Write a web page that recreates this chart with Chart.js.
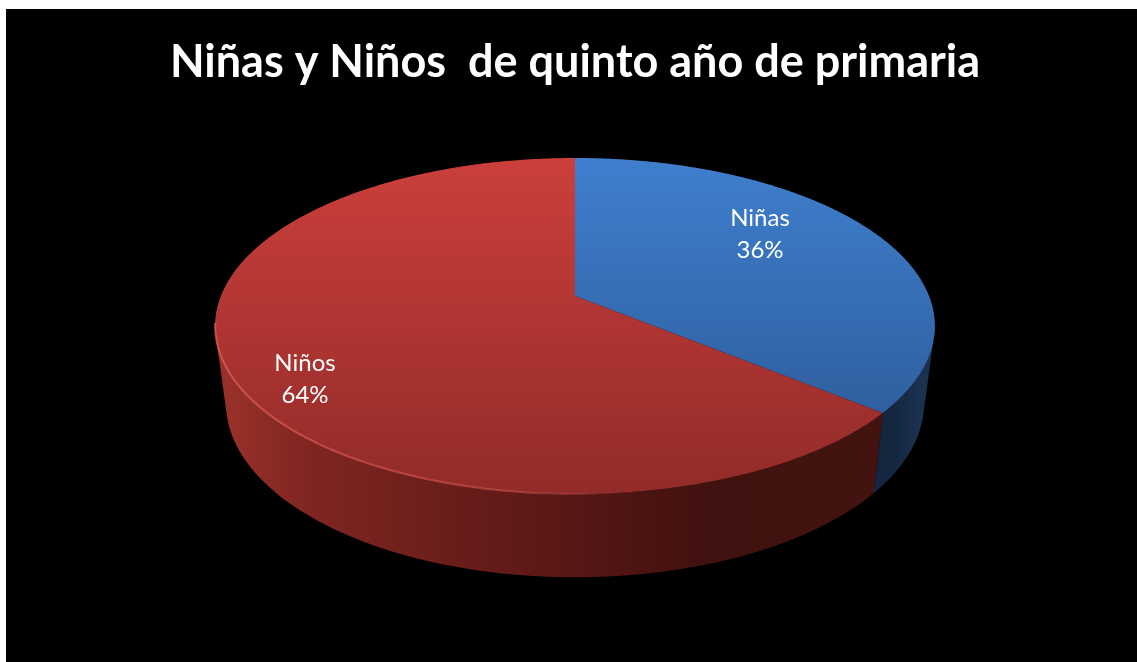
<!DOCTYPE html>
<html lang="es">
<head>
<meta charset="utf-8">
<title>Niñas y Niños</title>
<script src="https://cdn.jsdelivr.net/npm/chart.js@4/dist/chart.umd.js"></script>
<style>
  html, body { margin: 0; padding: 0; background: #fff; overflow: hidden; }
  #pieChart { position: absolute; left: 6px; top: 9px; background: #000; }
</style>
</head>
<body>
<canvas id="pieChart" width="1131" height="653"></canvas>
<script>
const chartTitle = "Niñas y Niños  de quinto año de primaria";
const categories = ["Niñas", "Niños"];
const percentages = [36, 64];

//! COLORES DE CADA REBANADA (cara superior y pared lateral)
const topColors = [
  ["#3f7fce", "#2f5f9f"],
  ["#cb3f3b", "#922b29"],
];
const sideColors = [
  ["#132440", "#15283f", "#1a3150"],
  ["#973029", "#7e2521", "#73211d", "#671c1a", "#5a1816", "#4c1412", "#41110f", "#42120f", "#43130f"],
];
const labelCenters = [
  { x: 754, y: 225 },
  { x: 299, y: 370 },
];

//! PERSPECTIVA DEL PASTEL 3D (relativa al radio que calcula Chart.js)
const view = {
  stretchX: 354 / 190,
  stretchY: 162.6 / 190,
  tilt: -0.1786,
  floorX: 0.97,
  floorY: 1.037,
  depth: 76 / 190,
};

function project(arc, angle, floor) {
  const r = arc.outerRadius;
  const u = Math.cos(angle);
  const w = Math.sin(angle);
  const d = 1 + view.tilt * w;
  const sx = floor ? view.floorX : 1;
  const sy = floor ? view.floorY : 1;
  return {
    x: arc.x + (r * view.stretchX * sx * u) / d,
    y: arc.y + (r * view.stretchY * sy * w) / d + (floor ? r * view.depth : 0),
  };
}

function drawSide(ctx, arc, index, steps) {
  const da = (arc.endAngle - arc.startAngle) / steps;
  ctx.beginPath();
  for (let i = 0; i < steps; i++) {
    const a0 = arc.startAngle + da * i;
    const a1 = a0 + da;
    const quad = [
      project(arc, a0, false),
      project(arc, a1, false),
      project(arc, a1, true),
      project(arc, a0, true),
    ];
    // todos los trozos con el mismo sentido, para que no se cancelen en el relleno
    let area = 0;
    quad.forEach((p, k) => {
      const n = quad[(k + 1) % 4];
      area += p.x * n.y - n.x * p.y;
    });
    if (area < 0) quad.reverse();
    ctx.moveTo(quad[0].x, quad[0].y);
    ctx.lineTo(quad[1].x, quad[1].y);
    ctx.lineTo(quad[2].x, quad[2].y);
    ctx.lineTo(quad[3].x, quad[3].y);
    ctx.closePath();
  }
  const isBlue = index === 0;
  const x0 = isBlue ? project(arc, arc.endAngle, true).x : project(arc, Math.PI, true).x;
  const x1 = isBlue ? project(arc, 0, true).x : project(arc, arc.startAngle, true).x;
  const grad = ctx.createLinearGradient(x0, 0, x1, 0);
  sideColors[index].forEach((c, i, all) => grad.addColorStop(i / (all.length - 1), c));
  ctx.fillStyle = grad;
  ctx.fill("nonzero");
}

function drawTop(ctx, arc, index, steps) {
  const da = (arc.endAngle - arc.startAngle) / steps;
  let upper = arc.y;
  let lower = arc.y;
  ctx.beginPath();
  ctx.moveTo(arc.x, arc.y);
  for (let i = 0; i <= steps; i++) {
    const p = project(arc, arc.startAngle + da * i, false);
    upper = Math.min(upper, p.y);
    lower = Math.max(lower, p.y);
    ctx.lineTo(p.x, p.y);
  }
  ctx.closePath();
  const grad = ctx.createLinearGradient(0, upper, 0, lower);
  grad.addColorStop(0, topColors[index][0]);
  grad.addColorStop(1, topColors[index][1]);
  ctx.fillStyle = grad;
  ctx.fill();

  // borde claro de la cara superior, se apaga hacia la derecha
  ctx.beginPath();
  let started = false;
  for (let i = 0; i <= steps; i++) {
    const a = arc.startAngle + da * i;
    if (Math.sin(a) < 0.15) continue;
    const p = project(arc, a, false);
    if (!started) {
      ctx.moveTo(p.x, p.y);
      started = true;
    } else {
      ctx.lineTo(p.x, p.y);
    }
  }
  const rim = ctx.createLinearGradient(project(arc, Math.PI, false).x, 0, project(arc, 0, false).x, 0);
  rim.addColorStop(0, "rgba(225,95,85,0.75)");
  rim.addColorStop(0.4, "rgba(225,95,85,0.5)");
  rim.addColorStop(0.6, "rgba(225,95,85,0)");
  rim.addColorStop(1, "rgba(225,95,85,0)");
  ctx.strokeStyle = rim;
  ctx.lineWidth = 2;
  ctx.stroke();
}

const pie3d = {
  id: "pie3d",
  beforeDatasetDraw(chart, args) {
    args.meta.data.forEach((arc, index) => {
      arc.draw = function (ctx) {
        ctx.save();
        drawSide(ctx, arc, index, 160);
        drawTop(ctx, arc, index, 360);
        ctx.restore();
      };
    });
  },
  afterDatasetDraw(chart, args) {
    const ctx = chart.ctx;
    const total = percentages.reduce((a, b) => a + b, 0);
    ctx.save();
    ctx.fillStyle = "#fff";
    ctx.font = "24px Lato";
    ctx.textAlign = "center";
    ctx.textBaseline = "middle";
    args.meta.data.forEach((arc, i) => {
      const pos = labelCenters[i];
      ctx.fillText(categories[i], pos.x, pos.y - 16);
      ctx.fillText(Math.round((percentages[i] / total) * 100) + "%", pos.x, pos.y + 16);
    });
    ctx.restore();
  },
};

new Chart(document.getElementById("pieChart"), {
  type: "pie",
  data: {
    labels: categories,
    datasets: [
      {
        data: percentages,
        backgroundColor: ["#3a72b8", "#b03532"],
        borderWidth: 0,
        clip: false,
      },
    ],
  },
  options: {
    responsive: false,
    animation: false,
    layout: { padding: { left: 7, bottom: 176 } },
    plugins: {
      legend: { display: false },
      tooltip: { enabled: false },
      title: {
        display: true,
        text: chartTitle,
        color: "#fff",
        font: { family: "Lato", size: 45, weight: "bold", lineHeight: 1.2 },
        padding: { top: 26, bottom: 17 },
      },
    },
  },
  plugins: [pie3d],
});
</script>
</body>
</html>
